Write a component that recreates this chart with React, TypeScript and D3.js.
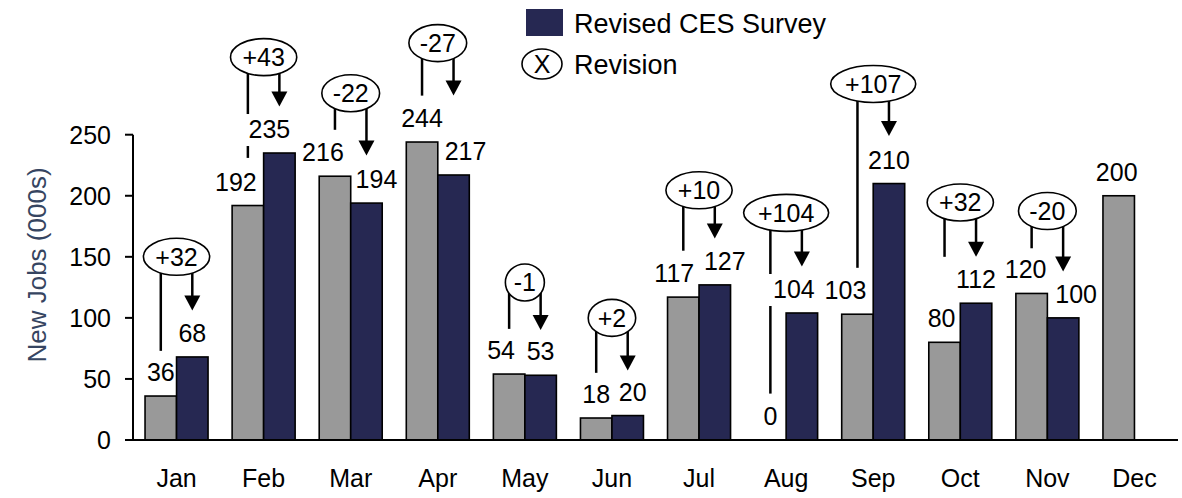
import React from "react";
import * as d3 from "d3";

const months = ["Jan", "Feb", "Mar", "Apr", "May", "Jun", "Jul", "Aug", "Sep", "Oct", "Nov", "Dec"];
const initialValues = [36, 192, 216, 244, 54, 18, 117, 0, 103, 80, 120, 200];
const revisedValues: (number | null)[] = [68, 235, 194, 217, 53, 20, 127, 104, 210, 112, 100, null];
const yTicks = [0, 50, 100, 150, 200, 250];
// annotation levels (data units)
const bubbleLevels: (number | null)[] = [150, 313.5, 284, 325, 129, 100, 204.5, 186, 291.5, 194.5, 187.5, null];
const initialLineEnds: (number | null)[] = [73, 231, 254, 282, 91, 55, 155, 38, 141, 150, 157, null];
const arrowEnds: (number | null)[] = [106, 273, 233, 282, 90, 57, 165, 142, 249, 150, 138, null];

// layout: horizontal nudges of the value labels (px), to avoid collisions as in the original
const initialLabelShift = [0, -12, -12, 0, -8, 0, -9, 0, -12, -3, -6, -2];
const revisedLabelShift = [0, -10, 10, 12, 0, 5, 10, -8, 0, 0, 13, 0];

const W = 1182;
const H = 498;
const GRAY = "#999999";
const NAVY = "#262852";
const FONT = "Liberation Sans, Arial, sans-serif";
const FS = 25;

const charW: Record<string, number> = { "+": 0.584, "-": 0.333 };
const textWidth = (s: string, fs: number) =>
  s.split("").reduce((a, c) => a + (charW[c] ?? 0.556), 0) * fs;

export default function App() {
  const x = d3.scaleBand<string>().domain(months).range([133, 1178]).padding(0);
  const step = x.bandwidth();
  const sub = d3
    .scaleBand<string>()
    .domain(["initial", "revised"])
    .range([step / 2 - 31.5, step / 2 + 31.5])
    .padding(0);
  const bw = sub.bandwidth();
  const y = d3.scaleLinear().domain([0, 250]).range([440, 134.7]);
  const baseY = y(0);

  type Lab = { key: string; cx: number; val: number };
  const labels: Lab[] = [];
  months.forEach((m, i) => {
    const gx = (x(m) as number) + (sub("initial") as number) + bw / 2 + initialLabelShift[i];
    labels.push({ key: "i" + m, cx: gx, val: initialValues[i] });
    const rv = revisedValues[i];
    if (rv != null) {
      const nx = (x(m) as number) + (sub("revised") as number) + bw / 2 + revisedLabelShift[i];
      labels.push({ key: "r" + m, cx: nx, val: rv });
    }
  });

  return (
    <svg
      width={W}
      height={H}
      style={{ position: "absolute", left: 0, top: 0, background: "#fff" }}
      xmlns="http://www.w3.org/2000/svg"
    >
      {/* y axis title */}
      <text
        transform={`translate(46, 265) rotate(-90)`}
        textAnchor="middle"
        fontSize={26}
        fontFamily={FONT}
        fill="#364561"
      >
        New Jobs (000s)
      </text>

      {/* annotation lines */}
      {months.map((m, i) => {
        const lvl = bubbleLevels[i];
        const rv = revisedValues[i];
        if (lvl == null || rv == null) return null;
        const cy = y(lvl);
        const gx = (x(m) as number) + (sub("initial") as number) + bw / 2;
        const nx = (x(m) as number) + (sub("revised") as number) + bw / 2;
        const le = y(initialLineEnds[i] as number);
        const tip = y(arrowEnds[i] as number);
        const head = 15;
        return (
          <g key={"l" + m}>
            <line x1={gx} x2={gx} y1={cy} y2={le} stroke="#000" strokeWidth={2.5} />
            <line x1={nx} x2={nx} y1={cy} y2={tip - head + 1} stroke="#000" strokeWidth={2.5} />
            <path d={`M${nx - 8},${tip - head} L${nx + 8},${tip - head} L${nx},${tip} Z`} fill="#000" />
          </g>
        );
      })}

      {/* white label backgrounds (hide lines behind labels) */}
      {labels.map((l) => {
        const tw = textWidth(String(l.val), FS);
        const by = y(l.val) - 15;
        return <rect key={"bg" + l.key} x={l.cx - tw / 2 - 6} y={by - 24} width={tw + 12} height={32} fill="#fff" />;
      })}

      {/* bars */}
      {months.map((m, i) => {
        const x0 = (x(m) as number) + (sub("initial") as number);
        const x1 = (x(m) as number) + (sub("revised") as number);
        const iv = initialValues[i];
        const rv = revisedValues[i];
        return (
          <g key={"b" + m}>
            {iv > 0 && (
              <rect x={x0} y={y(iv)} width={bw} height={baseY - y(iv)} fill={GRAY} stroke="#000" strokeWidth={1.6} />
            )}
            {rv != null && rv > 0 && (
              <rect x={x1} y={y(rv)} width={bw} height={baseY - y(rv)} fill={NAVY} stroke="#000" strokeWidth={1.6} />
            )}
          </g>
        );
      })}

      {/* axes */}
      <line x1={133} x2={133} y1={y(250)} y2={baseY} stroke="#000" strokeWidth={2} />
      <line x1={125} x2={1178} y1={baseY} y2={baseY} stroke="#000" strokeWidth={2} />
      {yTicks.map((t) => (
        <g key={"t" + t}>
          <line x1={125} x2={133} y1={y(t)} y2={y(t)} stroke="#000" strokeWidth={2} />
          <text x={111} y={y(t) + 9} textAnchor="end" fontSize={FS} fontFamily={FONT} fill="#000">
            {t}
          </text>
        </g>
      ))}
      {months.map((m) => (
        <text
          key={"m" + m}
          x={(x(m) as number) + step / 2}
          y={487}
          textAnchor="middle"
          fontSize={FS}
          fontFamily={FONT}
          fill="#000"
        >
          {m}
        </text>
      ))}

      {/* value labels */}
      {labels.map((l) => (
        <text
          key={"vt" + l.key}
          x={l.cx}
          y={y(l.val) - 15}
          textAnchor="middle"
          fontSize={FS}
          fontFamily={FONT}
          fill="#000"
        >
          {l.val}
        </text>
      ))}

      {/* revision bubbles */}
      {months.map((m, i) => {
        const lvl = bubbleLevels[i];
        const rv = revisedValues[i];
        if (lvl == null || rv == null) return null;
        const diff = rv - initialValues[i];
        const txt = (diff > 0 ? "+" : "") + diff;
        const tw = textWidth(txt, FS);
        const rx = 1.35 * (tw / 2) + 4.5;
        const cx = (x(m) as number) + step / 2;
        const cy = y(lvl);
        return (
          <g key={"e" + m}>
            <ellipse cx={cx} cy={cy} rx={rx} ry={18.5} fill="#fff" stroke="#000" strokeWidth={1.6} />
            <text x={cx} y={cy + 9} textAnchor="middle" fontSize={FS} fontFamily={FONT} fill="#000">
              {txt}
            </text>
          </g>
        );
      })}

      {/* legend */}
      <rect x={526} y={9} width={37} height={27} fill={NAVY} />
      <text x={574} y={33} fontSize={27} fontFamily={FONT} fill="#000">
        Revised CES Survey
      </text>
      <ellipse cx={542} cy={64} rx={20} ry={15} fill="#fff" stroke="#000" strokeWidth={1.6} />
      <text x={542} y={73} textAnchor="middle" fontSize={25} fontFamily={FONT} fill="#000">
        X
      </text>
      <text x={574} y={74} fontSize={27} fontFamily={FONT} fill="#000">
        Revision
      </text>
    </svg>
  );
}
